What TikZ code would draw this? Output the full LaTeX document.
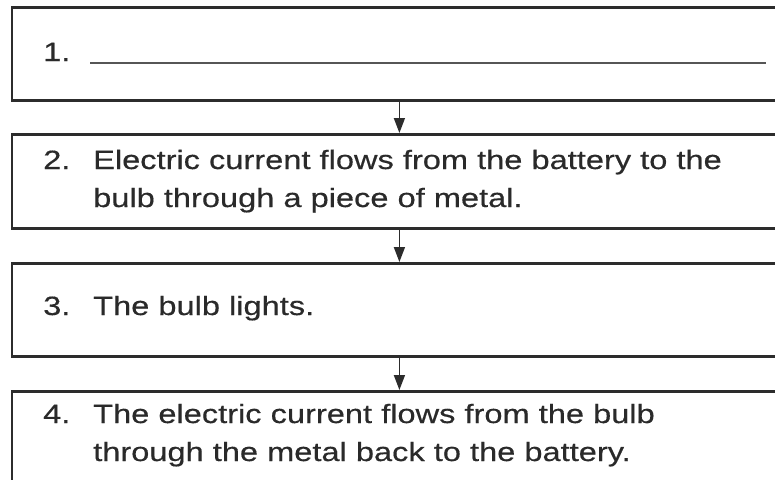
\documentclass[tikz,border=0pt]{standalone}
\usepackage{fontspec}
\setmainfont{Liberation Sans}[FakeStretch=1.23,FakeBold=0.4]
\usetikzlibrary{arrows.meta}
\definecolor{linec}{HTML}{2C2C2C}
\definecolor{textc}{HTML}{2A2A2A}
\tikzset{
  stepbox/.style={draw=linec, line width=2.8pt, minimum width=775pt, inner sep=0pt, anchor=north west},
  txt/.style={inner sep=0pt, anchor=base west, text=textc, font=\fontsize{26.5}{38}\selectfont},
  arr/.style={draw=linec, line width=1.6pt, -{Triangle[length=15pt,width=11pt]}},
  uline/.style={draw=linec!80, line width=1.5pt}
}
\begin{document}
\begin{tikzpicture}[x=1pt,y=-1pt]
\useasboundingbox (0,0) rectangle (775,479);
\clip (0,0) rectangle (775,479);
\fill[white] (0,0) rectangle (775,479);
% boxes
\node[stepbox, minimum height=93pt] (b1) at (10.5,6) {};
\node[stepbox, minimum height=94pt] (b2) at (10.5,133) {};
\node[stepbox, minimum height=93pt] (b3) at (10.5,262) {};
\node[stepbox, minimum height=100pt] (b4) at (10.5,390) {};
% arrows
\draw[arr] (b1.south) -- (b2.north);
\draw[arr] (b2.south) -- (b3.north);
\draw[arr] (b3.south) -- (b4.north);
% texts
\node[txt] (t1) at (43,61) {1.};
\coordinate (u1) at (90,63);
\coordinate (u2) at (766,63);
\draw[uline] (u1) -- (u2);
\node[txt] (n2) at (43,169) {2.};
\node[txt] (t2) at (93,169) {\begin{tabular}[t]{@{}l@{}}Electric current flows from the battery to the\\ bulb through a piece of metal.\end{tabular}};
\node[txt] (n3) at (43,315) {3.};
\node[txt] (t3) at (93,315) {The bulb lights.};
\node[txt] (n4) at (43,423) {4.};
\node[txt] (t4) at (93,423) {\begin{tabular}[t]{@{}l@{}}The electric current flows from the bulb\\ through the metal back to the battery.\end{tabular}};
\end{tikzpicture}
\end{document}
